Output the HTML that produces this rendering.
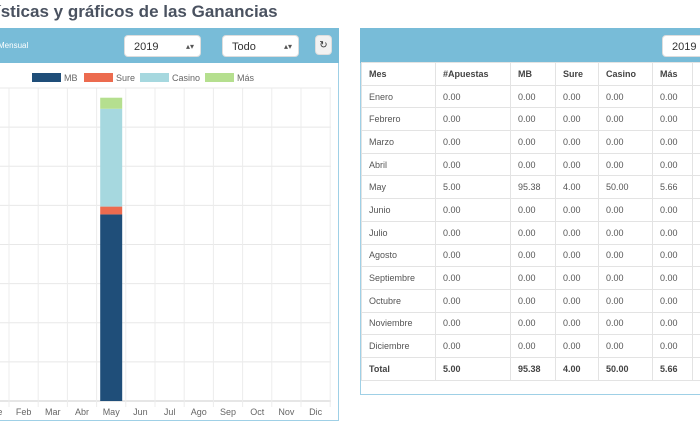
<!DOCTYPE html>
<html><head><meta charset="utf-8"><style>
body{margin:0;width:700px;height:441px;overflow:hidden;background:#fff;font-family:"Liberation Sans",sans-serif;position:relative}
.abs{position:absolute}
.sel{position:absolute;background:#fff;border-radius:4px;border:1px solid #ddd;font-size:11px;color:#333;height:22px;line-height:22px;padding-left:9px;box-sizing:border-box}
.sel span{position:absolute;right:6px;top:0;font-size:8px;color:#555}
table{border-collapse:collapse;font-size:9px;color:#555}
td{border:1px solid #e3e3e3;height:22.7px;padding:0 0 0 7px;box-sizing:border-box}
tr.h td,tr.t td{font-weight:bold;color:#444}
</style></head><body>
<div class="abs" style="left:-4px;top:2px;font-size:17px;font-weight:bold;color:#4a5260">ísticas y gráficos de las Ganancias</div>

<div class="abs" style="left:-10px;top:28px;width:349px;height:393px;border:1px solid #9fd0e6;box-sizing:border-box"></div>
<div class="abs" style="left:-10px;top:28px;width:349px;height:35px;background:#78bcd8"></div>
<div class="abs" style="left:-2px;top:41px;font-size:8px;color:#fff">Mensual</div>
<div class="sel" style="left:124px;top:35px;width:77px">2019<span>▴▾</span></div>
<div class="sel" style="left:222px;top:35px;width:77px">Todo<span>▴▾</span></div>
<div class="sel" style="left:315px;top:35px;width:17px;height:20px;padding:0;text-align:center;background:#f2f2f2;font-size:10px;line-height:19px">↻</div>

<svg class="abs" style="left:0;top:0" width="340" height="441">
<g id="legend"></g><g id="grid"></g><g id="bars"></g><g id="xlabels"></g>
</svg>

<div class="abs" style="left:360px;top:28px;width:360px;height:367px;border:1px solid #9fd0e6;box-sizing:border-box"></div>
<div class="abs" style="left:360px;top:28px;width:360px;height:35px;background:#78bcd8"></div>
<div class="sel" style="left:662px;top:35px;width:60px">2019</div>
<table class="abs" style="left:361px;top:62px;width:370px;table-layout:fixed">
<colgroup><col style="width:74px"><col style="width:75px"><col style="width:45px"><col style="width:43px"><col style="width:54px"><col style="width:40px"><col style="width:39px"></colgroup>
<tbody id="tb"></tbody></table>

<script>
const categories=["Ene","Feb","Mar","Abr","May","Jun","Jul","Ago","Sep","Oct","Nov","Dic"];
const mb=[0,0,0,0,95.38,0,0,0,0,0,0,0];
const sure=[0,0,0,0,4,0,0,0,0,0,0,0];
const casino=[0,0,0,0,50,0,0,0,0,0,0,0];
const mas=[0,0,0,0,5.66,0,0,0,0,0,0,0];
const apuestas=[0,0,0,0,5,0,0,0,0,0,0,0];
const yTicks=[0,20,40,60,80,100,120,140,160];
const monthNames=["Enero","Febrero","Marzo","Abril","May","Junio","Julio","Agosto","Septiembre","Octubre","Noviembre","Diciembre"];
const seriesNames=["MB","Sure","Casino","Más"];
const colors=["#1f4e79","#ec6b4f","#a6d8df","#b5df8f"];

const NS="http://www.w3.org/2000/svg";
const x0=-20.2,bw=29.2,yBase=401,yTop=88,yMax=160;
const xs=i=>x0+i*bw;
const ys=v=>yBase-(v/yMax)*(yBase-yTop);
function mk(tag,attrs,parent){const e=document.createElementNS(NS,tag);for(const k in attrs)e.setAttribute(k,attrs[k]);parent.appendChild(e);return e;}
const grid=document.getElementById('grid'),bars=document.getElementById('bars'),xl=document.getElementById('xlabels'),lg=document.getElementById('legend');
yTicks.forEach(t=>{const l=mk('line',{x1:0,x2:331,y1:ys(t),y2:ys(t),stroke:t===0?'#ccc':'#e8e8e8','stroke-width':1},grid);

});
for(let i=1;i<=categories.length;i++){const l=mk('line',{x1:xs(i),x2:xs(i),y1:yTop,y2:yBase+6,stroke:'#ececec'},grid);

}
const series=[mb,sure,casino,mas];
categories.forEach((c,i)=>{let acc=0;
series.forEach((s,k)=>{const v=s[i];if(v>0){const r=mk('rect',{x:xs(i)+3.6,width:22,y:ys(acc+v),height:ys(acc)-ys(acc+v),fill:colors[k]},bars);

acc+=v;}});
const t=mk('text',{x:xs(i)+bw/2,y:415,'text-anchor':'middle','font-size':9,fill:'#666'},xl);t.textContent=c;

});
const lgx=[32,84,140,205];
seriesNames.forEach((n,k)=>{const g=mk('g',{},lg);


mk('rect',{x:lgx[k],y:73,width:29,height:9,fill:colors[k]},g);
const t=mk('text',{x:lgx[k]+32,y:81,'font-size':9,fill:'#666'},g);t.textContent=n;});

const tb=document.getElementById('tb');
function row(cells,cls,name){const tr=document.createElement('tr');if(cls)tr.className=cls;


cells.forEach(c=>{const td=document.createElement('td');td.textContent=c;tr.appendChild(td);});tb.appendChild(tr);}
row(["Mes","#Apuestas","MB","Sure","Casino","Más","Total"],'h','table-head-row');
const f=v=>v.toFixed(2);
monthNames.forEach((m,i)=>{const tot=mb[i]+sure[i]+casino[i]+mas[i];row([m,f(apuestas[i]),f(mb[i]),f(sure[i]),f(casino[i]),f(mas[i]),f(tot)],'','row-'+m.toLowerCase());});
const sum=a=>a.reduce((p,c)=>p+c,0);
row(["Total",f(sum(apuestas)),f(sum(mb)),f(sum(sure)),f(sum(casino)),f(sum(mas)),f(sum(mb)+sum(sure)+sum(casino)+sum(mas))],'t','total-row');
</script>
</body></html>
